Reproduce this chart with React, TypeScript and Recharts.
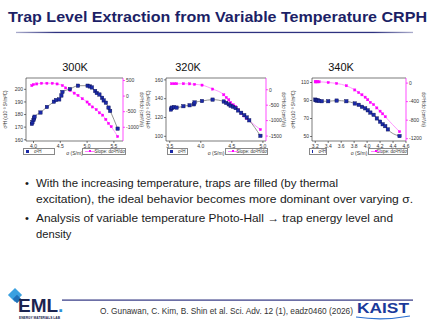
import React from "react";
import { ComposedChart, Line, XAxis, YAxis, ReferenceLine } from "recharts";

const FONT = "'Liberation Sans', Arial, sans-serif";
const NAVY = "#1c1f66";
const BLUE = "#1b2aa8";
const MAGENTA = "#ff00ff";

// 300K
const sig300 = [3.97, 3.98, 4.0, 4.01, 4.02, 4.13, 4.25, 4.38, 4.42, 4.48, 4.52, 4.54, 4.68, 4.83, 5.01, 5.05, 5.09, 5.15, 5.18, 5.23, 5.28, 5.31, 5.35, 5.4, 5.43, 5.57];
const h300 = [172.6, 173.9, 175.7, 177.0, 178.3, 181.6, 186.0, 190.2, 191.5, 192.0, 195.1, 197.9, 200.2, 202.9, 202.9, 202.3, 201.5, 198.7, 197.1, 195.9, 193.3, 191.2, 189.4, 185.5, 182.9, 168.8];
const dsig300 = [3.97, 4.0, 4.06, 4.15, 4.25, 4.35, 4.44, 4.54, 4.6, 4.68, 4.76, 4.83, 4.91, 5.0, 5.04, 5.1, 5.17, 5.23, 5.29, 5.35, 5.4, 5.45, 5.57];
const slope300 = [338, 370, 389, 411, 411, 411, 389, 338, 262, 180, 95, 22, -85, -190, -262, -348, -433, -537, -610, -749, -875, -980, -1296];
const xTicks300 = [4.0, 4.5, 5.0, 5.5];
const leftTicks300 = [160, 170, 180, 190, 200];
const rightTicks300 = [500, 0, -500, -1000];

// 320K
const sig320 = [3.52, 3.53, 3.54, 3.57, 3.61, 3.72, 3.82, 3.89, 3.9, 4.02, 4.19, 4.37, 4.41, 4.45, 4.48, 4.52, 4.56, 4.6, 4.65, 4.7, 4.74, 4.78, 4.96];
const h320 = [128.5, 130, 130.5, 131, 130.5, 132, 133, 134, 136, 137.5, 139, 137, 135.5, 134, 132.5, 131.5, 130, 127.5, 125, 122.5, 120, 117, 100.5];
const dsig320 = [3.53, 3.57, 3.61, 3.72, 3.82, 3.9, 4.02, 4.19, 4.37, 4.41, 4.45, 4.48, 4.52, 4.56, 4.6, 4.65, 4.7, 4.74, 4.78, 4.96];
const slope320 = [195, 195, 195, 195, 190, 175, 150, 22, -163, -250, -326, -413, -489, -543, -652, -760, -848, -930, -1000, -1290];
const xTicks320 = [3.5, 4.0, 4.5, 5.0];
const leftTicks320 = [100, 110, 120, 130, 140, 150, 160];
const rightTicks320 = [0, -500, -1000, -1500];

// 340K
const sig340 = [3.2, 3.21, 3.225, 3.24, 3.26, 3.3, 3.4, 3.53, 3.68, 3.81, 3.87, 3.92, 3.97, 4.01, 4.05, 4.1, 4.15, 4.2, 4.24, 4.28, 4.32, 4.5];
const h340 = [91, 90.3, 89.9, 90.3, 89.5, 89.2, 89.2, 89.9, 89.2, 86.7, 85.2, 83, 81.3, 79.1, 76.6, 74.1, 70.1, 66.5, 63.6, 61.5, 57.9, 50.5];
const dsig340 = [3.2, 3.21, 3.225, 3.24, 3.26, 3.4, 3.53, 3.68, 3.81, 3.87, 3.92, 3.97, 4.01, 4.05, 4.1, 4.15, 4.2, 4.24, 4.28, 4.5];
const slope340 = [27, 27, 27, 27, 27, 13, -8, -57, -148, -205, -253, -304, -359, -416, -464, -536, -606, -663, -726, -1049];
const xTicks340 = [3.2, 3.4, 3.6, 3.8, 4.0, 4.2, 4.4, 4.6];
const leftTicks340 = [50, 60, 70, 80, 90, 100, 110];
const rightTicks340 = [0, -200, -400, -600, -800, -1000, -1200];

const tickStyle = { fontSize: 5, fill: "#333", fontFamily: FONT };

const squareDot = (fill: string, stroke: string, size: number) => (p: any) => (
  <rect
    key={`d-${p.index}`}
    x={p.cx - size / 2}
    y={p.cy - size / 2}
    width={size}
    height={size}
    fill={fill}
    stroke={stroke}
    strokeWidth={0.4}
  />
);

interface PanelProps {
  left: number;
  leftW: number;
  plotW: number;
  rightW: number;
  sig: number[];
  h: number[];
  dsig: number[];
  slope: number[];
  xDomain: [number, number];
  xTicks: number[];
  leftDomain: [number, number];
  leftTicks: number[];
  rightDomain: [number, number];
  rightTicks: number[];
}

function Panel(p: PanelProps) {
  const blue = p.sig.map((s, i) => ({ s, h: p.h[i] }));
  const mag = p.dsig.map((s, i) => ({ s, d: p.slope[i] }));
  const width = p.leftW + p.plotW + p.rightW;
  return (
    <div style={{ position: "absolute", left: p.left, top: 74 }}>
      <ComposedChart width={width} height={85} margin={{ top: 4, right: 0, bottom: 0, left: 0 }}>
        <XAxis
          dataKey="s"
          type="number"
          domain={p.xDomain}
          ticks={p.xTicks}
          allowDataOverflow
          tick={tickStyle}
          tickSize={2}
          tickMargin={1}
          tickFormatter={(v: number) => v.toFixed(1)}
          height={18}
          stroke="#222"
          strokeWidth={0.6}
          label={{ value: "σ (S/m)", position: "insideBottom", offset: 4, style: { fontSize: 5, fill: "#333", fontFamily: FONT } }}
        />
        <YAxis
          yAxisId="left"
          type="number"
          domain={p.leftDomain}
          ticks={p.leftTicks}
          allowDataOverflow
          width={p.leftW}
          tick={tickStyle}
          tickSize={2}
          tickMargin={1}
          stroke="#222"
          strokeWidth={0.6}
          label={{ value: "σ²H (x10⁻³ S²/m²C)", angle: -90, position: "insideLeft", offset: 5, style: { fontSize: 4.5, fill: "#333", fontFamily: FONT, textAnchor: "middle" } }}
        />
        <YAxis
          yAxisId="right"
          orientation="right"
          type="number"
          domain={p.rightDomain}
          ticks={p.rightTicks}
          allowDataOverflow
          width={p.rightW}
          tick={tickStyle}
          tickSize={2}
          tickMargin={1}
          stroke={MAGENTA}
          strokeWidth={0.7}
          label={{ value: "dσ²H/dσ (cm²/Vs)", angle: 90, position: "insideRight", offset: 4, style: { fontSize: 4.5, fill: "#333", fontFamily: FONT, textAnchor: "middle" } }}
        />
        <ReferenceLine yAxisId="left" y={p.leftDomain[1]} stroke="#222" strokeWidth={0.6} />
        <Line
          yAxisId="right"
          data={mag}
          dataKey="d"
          type="monotone"
          stroke="#ff80ff"
          strokeWidth={0.8}
          dot={squareDot(MAGENTA, MAGENTA, 2.2)}
          isAnimationActive={false}
        />
        <Line
          yAxisId="left"
          data={blue}
          dataKey="h"
          type="monotone"
          stroke="#777"
          strokeWidth={0.8}
          dot={squareDot(BLUE, "#0a0f50", 3.4)}
          isAnimationActive={false}
        />
      </ComposedChart>
    </div>
  );
}

function LegendBox({ x, w, children }: { x: number; w: number; children: React.ReactNode }) {
  return (
    <div
      style={{
        position: "absolute",
        left: x,
        top: 148,
        width: w,
        height: 7,
        border: "0.5px solid #888",
        background: "#fff",
        boxSizing: "border-box",
        display: "flex",
        alignItems: "center",
        paddingLeft: 2,
        gap: 2,
        fontFamily: FONT,
        fontSize: 4.5,
        color: "#333",
        whiteSpace: "nowrap",
        overflow: "hidden",
      }}
    >
      {children}
    </div>
  );
}

function BlueKey() {
  return <span style={{ display: "inline-block", width: 3, height: 3, background: BLUE, marginRight: 3 }} />;
}

function MagKey() {
  return (
    <span style={{ position: "relative", display: "inline-block", width: 10, height: 3, marginRight: 2 }}>
      <span style={{ position: "absolute", left: 0, top: 1, width: 10, height: 0.8, background: "#ff80ff" }} />
      <span style={{ position: "absolute", left: 4, top: 0, width: 2.4, height: 2.4, background: MAGENTA }} />
    </span>
  );
}

function Legends({ b, m }: { b: [number, number]; m: [number, number] }) {
  return (
    <>
      <LegendBox x={b[0]} w={b[1]}>
        <BlueKey />
        σ²H
      </LegendBox>
      <LegendBox x={m[0]} w={m[1]}>
        <MagKey />
        Slope: dσ²H/dσ
      </LegendBox>
    </>
  );
}

export default function App() {
  return (
    <div style={{ position: "absolute", left: 0, top: 0, width: 430, height: 323, background: "#fff", overflow: "hidden" }}>
      <svg width={430} height={323} style={{ position: "absolute", left: 0, top: 0 }}>
        <defs>
          <linearGradient id="ul" x1="0" x2="1" y1="0" y2="0">
            <stop offset="0" stopColor="#2e3280" stopOpacity={0.4} />
            <stop offset="0.1" stopColor="#2e3280" />
            <stop offset="0.9" stopColor="#2e3280" />
            <stop offset="1" stopColor="#2e3280" stopOpacity={0.4} />
          </linearGradient>
        </defs>
        <text x={8} y={22} fontFamily={FONT} fontWeight="bold" fontSize={14.5} fill={NAVY} textLength={419} lengthAdjust="spacingAndGlyphs">
          Trap Level Extraction from Variable Temperature CRPH
        </text>
        <rect x={16} y={31.8} width={397} height={1.3} fill="url(#ul)" />

        <text x={75} y={71} textAnchor="middle" fontFamily={FONT} fontSize={11} fill="#111">300K</text>
        <text x={188} y={71} textAnchor="middle" fontFamily={FONT} fontSize={11} fill="#111">320K</text>
        <text x={341} y={71} textAnchor="middle" fontFamily={FONT} fontSize={11} fill="#111">340K</text>

        <g fontFamily={FONT} fontSize={11.2} fill="#1a1a1a">
          <text x={25} y={187}>•</text>
          <text x={36} y={187} textLength={302} lengthAdjust="spacingAndGlyphs">With the increasing temperature, traps are filled (by thermal</text>
          <text x={36} y={203} textLength={377} lengthAdjust="spacingAndGlyphs">excitation), the ideal behavior becomes more dominant over varying σ.</text>
          <text x={25} y={222}>•</text>
          <text x={36} y={222} textLength={357} lengthAdjust="spacingAndGlyphs">Analysis of variable temperature Photo-Hall → trap energy level and</text>
          <text x={36} y={238}>density</text>
        </g>

        {/* footer */}
        <rect x={62} y={299.5} width={351} height={1.2} fill="#2e3280" />
        <text x={100} y={314} fontFamily={FONT} fontSize={8.3} fill="#333" textLength={253} lengthAdjust="spacingAndGlyphs">
          O. Gunawan, C. Kim, B. Shin et al. Sci. Adv. 12 (1), eadz0460 (2026)
        </text>

        <g>
          <rect x={10} y={290} width={10} height={10} fill="#3aa0e0" transform="rotate(45 15 295)" />
          <rect x={14} y={296} width={6} height={6} fill="#1f6fb8" transform="rotate(45 17 299)" />
          <text x={18} y={312} fontFamily={FONT} fontWeight="bold" fontSize={19} fill="#1b2450">
            EML<tspan fill="#2b8fd6">.</tspan>
          </text>
          <text x={19} y={319} fontFamily={FONT} fontWeight="bold" fontSize={3} fill="#1b2450" textLength={41} lengthAdjust="spacingAndGlyphs">ENERGY MATERIALS LAB</text>
        </g>

        <g>
          <text x={357} y={313} fontFamily={FONT} fontWeight="bold" fontSize={15} fill="#1a3a9a" textLength={52} lengthAdjust="spacingAndGlyphs">KAIST</text>
          <path d="M356 317 Q 383 321 410 316" stroke="#2a6fd0" strokeWidth={1.2} fill="none" />
        </g>
      </svg>

      <Panel
        left={0} leftW={26} plotW={97} rightW={23}
        sig={sig300} h={h300} dsig={dsig300} slope={slope300}
        xDomain={[3.86, 5.67]} xTicks={xTicks300}
        leftDomain={[159, 209]} leftTicks={leftTicks300}
        rightDomain={[-1440, 580]} rightTicks={rightTicks300}
      />
      <Panel
        left={143} leftW={23} plotW={100} rightW={22}
        sig={sig320} h={h320} dsig={dsig320} slope={slope320}
        xDomain={[3.44, 5.05]} xTicks={xTicks320}
        leftDomain={[95, 162]} leftTicks={leftTicks320}
        rightDomain={[-1660, 380]} rightTicks={rightTicks320}
      />
      <Panel
        left={288} leftW={24} plotW={94} rightW={22}
        sig={sig340} h={h340} dsig={dsig340} slope={slope340}
        xDomain={[3.15, 4.6]} xTicks={xTicks340}
        leftDomain={[45, 115]} leftTicks={leftTicks340}
        rightDomain={[-1250, 110]} rightTicks={rightTicks340}
      />

      <Legends b={[23, 32]} m={[82, 44]} />
      <Legends b={[167, 21]} m={[225, 43]} />
      <Legends b={[309, 18]} m={[368, 40]} />
    </div>
  );
}
